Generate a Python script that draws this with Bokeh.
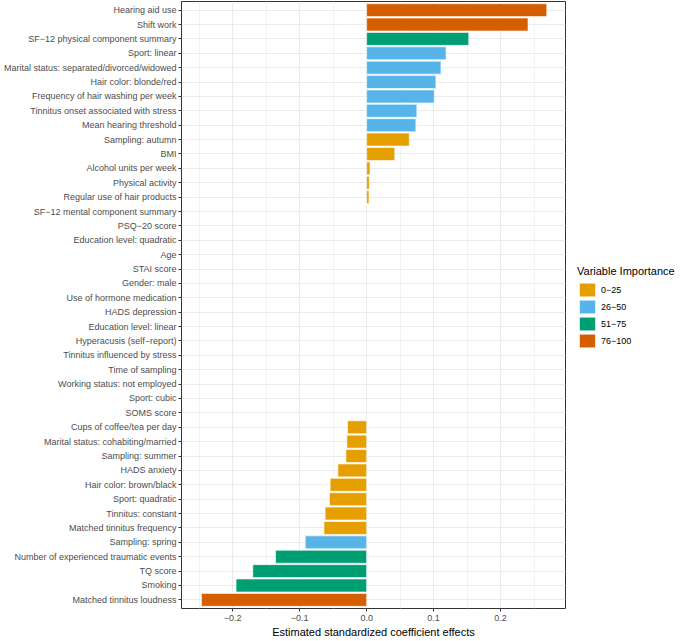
from bokeh.plotting import figure
from bokeh.models import ColumnDataSource, FactorRange, Range1d, FixedTicker, Legend, LegendItem
from bokeh.embed import file_html
from bokeh.resources import INLINE

# Variables, listed from top to bottom of the chart
variables = [
    "Hearing aid use", "Shift work", "SF\u221212 physical component summary", "Sport: linear",
    "Marital status: separated/divorced/widowed", "Hair color: blonde/red",
    "Frequency of hair washing per week", "Tinnitus onset associated with stress",
    "Mean hearing threshold", "Sampling: autumn", "BMI", "Alcohol units per week",
    "Physical activity", "Regular use of hair products", "SF\u221212 mental component summary",
    "PSQ\u221220 score", "Education level: quadratic", "Age", "STAI score", "Gender: male",
    "Use of hormone medication", "HADS depression", "Education level: linear",
    "Hyperacusis (self\u2212report)", "Tinnitus influenced by stress", "Time of sampling",
    "Working status: not employed", "Sport: cubic", "SOMS score", "Cups of coffee/tea per day",
    "Marital status: cohabiting/married", "Sampling: summer", "HADS anxiety",
    "Hair color: brown/black", "Sport: quadratic", "Tinnitus: constant",
    "Matched tinnitus frequency", "Sampling: spring", "Number of experienced traumatic events",
    "TQ score", "Smoking", "Matched tinnitus loudness",
]
effects = [
    0.269, 0.241, 0.1525, 0.1186, 0.111, 0.1034, 0.101, 0.075, 0.0735, 0.0637, 0.042,
    0.005, 0.004, 0.0035, 0.0, 0.0, 0.0, 0.0, 0.0, 0.0, 0.0, 0.0, 0.0, 0.0, 0.0, 0.0,
    0.0, 0.0, 0.0, -0.0285, -0.0295, -0.031, -0.043, -0.0545, -0.0555, -0.062, -0.0637,
    -0.0917, -0.136, -0.170, -0.195, -0.2466,
]
importance = [
    "76\u2212100", "76\u2212100", "51\u221275", "26\u221250", "26\u221250", "26\u221250",
    "26\u221250", "26\u221250", "26\u221250", "0\u221225", "0\u221225", "0\u221225",
    "0\u221225", "0\u221225", "0\u221225", "0\u221225", "0\u221225", "0\u221225",
    "0\u221225", "0\u221225", "0\u221225", "0\u221225", "0\u221225", "0\u221225",
    "0\u221225", "0\u221225", "0\u221225", "0\u221225", "0\u221225", "0\u221225",
    "0\u221225", "0\u221225", "0\u221225", "0\u221225", "0\u221225", "0\u221225",
    "0\u221225", "26\u221250", "51\u221275", "51\u221275", "51\u221275", "76\u2212100",
]
groups = ["0\u221225", "26\u221250", "51\u221275", "76\u2212100"]
group_colors = ["#E69F00", "#56B4E9", "#009E73", "#D55E00"]
x_ticks = [-0.2, -0.1, 0.0, 0.1, 0.2]
x_tick_labels = ["\u22120.2", "\u22120.1", "0.0", "0.1", "0.2"]

FONT = "Liberation Sans"

p = figure(
    frame_width=384, frame_height=607,
    y_range=FactorRange(factors=variables[::-1], range_padding=0.1, range_padding_units="absolute"),
    x_range=Range1d(-0.2765, 0.297),
    output_backend="svg", toolbar_location=None,
    min_border_left=168, min_border_right=0, min_border_top=1, min_border_bottom=27,
)

items = []
for g, c in zip(groups, group_colors):
    idx = [i for i, imp in enumerate(importance) if imp == g]
    src = ColumnDataSource(dict(
        y=[variables[i] for i in idx],
        x=[effects[i] for i in idx],
        la=[1.0 if effects[i] != 0 else 0.0 for i in idx],
    ))
    r = p.hbar(y="y", left=0, right="x", height=0.9, source=src, fill_color=c,
               line_color="white", line_width=0.6, line_alpha="la")
    items.append(LegendItem(label=g, renderers=[r]))

legend = Legend(items=items, title="Variable Importance", location=(12, 259))
legend.title_text_font = FONT
legend.title_text_font_size = "11px"
legend.title_text_font_style = "normal"
legend.title_text_color = "black"
legend.label_text_font = FONT
legend.label_text_font_size = "9px"
legend.label_text_color = "black"
legend.glyph_width = 20
legend.glyph_height = 17
legend.label_height = 17
legend.spacing = 0
legend.label_standoff = 4
legend.padding = 0
legend.margin = 0
legend.border_line_color = None
legend.background_fill_alpha = 0
legend.title_standoff = 4
p.add_layout(legend, "right")

p.outline_line_color = "#333333"
p.outline_line_width = 1

p.xaxis.ticker = FixedTicker(ticks=x_ticks, minor_ticks=[-0.25, -0.15, -0.05, 0.05, 0.15, 0.25])
p.xaxis.major_label_overrides = dict(zip(x_ticks, x_tick_labels))
p.xaxis.axis_label = "Estimated standardized coefficient effects"
p.xaxis.axis_label_text_font = FONT
p.xaxis.axis_label_text_font_size = "11px"
p.xaxis.axis_label_text_font_style = "normal"
p.xaxis.axis_label_text_color = "black"
p.xaxis.axis_label_standoff = 2

for ax in (p.xaxis, p.yaxis):
    ax.axis_line_color = None
    ax.major_tick_line_color = "#333333"
    ax.major_tick_out = 3
    ax.major_tick_in = 0
    ax.minor_tick_line_color = None
    ax.major_label_text_font = FONT
    ax.major_label_text_font_size = "9px"
    ax.major_label_text_color = "#4D4D4D"
    ax.major_label_standoff = 2

p.xgrid.grid_line_color = "#EBEBEB"
p.xgrid.minor_grid_line_color = "#F3F3F3"
p.ygrid.grid_line_color = "#EBEBEB"
p.xgrid.grid_line_width = 1
p.ygrid.grid_line_width = 1

p.background_fill_color = "white"

open("out.html", "w").write(file_html(p, INLINE))
